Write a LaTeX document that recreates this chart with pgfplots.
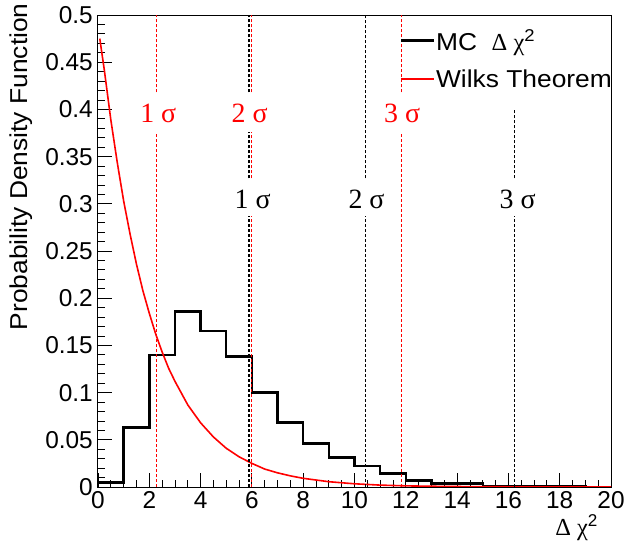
\documentclass[border=0pt]{standalone}
\usepackage{pgfplots}
\pgfplotsset{compat=1.18}
\usepackage{fontspec}
\setmainfont{Liberation Sans}
\newfontfamily\widesans[FakeStretch=1.08]{Liberation Sans}
\newfontfamily\serif{Liberation Serif}

\begin{document}
\begin{tikzpicture}
\begin{axis}[
    scale only axis,
    width=513bp, height=472bp,
    xmin=0, xmax=20, ymin=0, ymax=0.5,
    xtick={0,2,4,6,8,10,12,14,16,18,20},
    ytick={0,0.05,0.1,0.15,0.2,0.25,0.3,0.35,0.4,0.45,0.5},
    minor x tick num=3, minor y tick num=4,
    xtick pos=bottom, ytick pos=left,
    tick align=inside,
    major tick length=14bp, minor tick length=7bp,
    every tick/.style={black, line width=0.8bp},
    axis line style={line width=1bp},
    /pgf/number format/assume math mode=true,
    /pgf/number format/fixed,
    /pgf/number format/precision=2,
    tick label style={font=\fontsize{24.5}{28}\selectfont},
    yticklabel style={anchor=east, inner xsep=0pt, xshift=-5bp},
    xticklabel style={yshift=-1bp},
    xlabel={{\serif Δ χ}\textsuperscript{2}},
    ylabel={Probability Density Function},
    every axis x label/.style={at={(axis description cs:0.975,-0.058)}, anchor=north east, inner sep=0pt, font=\fontsize{24.5}{28}\selectfont},
    every axis y label/.style={at={(axis description cs:-0.127,1.025)}, rotate=90, anchor=south east, inner sep=0pt, font=\widesans\fontsize{24.5}{28}\selectfont},
    legend style={at={(axis cs:11.75,0.5)}, anchor=north west, yshift=-13bp, draw=none, fill=none,
        font=\widesans\fontsize{24.5}{28}\selectfont, row sep=16bp, inner sep=0pt, nodes={inner sep=1bp}},
    legend cell align=left,
    legend image code/.code={\draw[#1] (0bp,0bp) -- (33bp,0bp);},
    unbounded coords=jump,
]
% MC histogram (bin lower edges)
\addplot[const plot, black, line width=2.5bp] coordinates {
    (0,0.005) (1,0.063) (2,0.140) (3,0.186) (4,0.165) (5,0.138)
    (6,0.100) (7,0.0685) (8,0.046) (9,0.031) (10,0.022) (11,0.0145)
    (12,0.007) (13,0.0036) (14,0.0036) (15,0.001) (16,0.0008) (17,0.0005)
    (18,0.0004) (19,0.0002) (20,0.0002)
};
\addlegendentry{MC\ \ {\serif Δ χ}\textsuperscript{2}}
% Wilks curve
\addplot[red, line width=1.6bp] coordinates {
    (0.07,0.475) (0.25,0.441) (0.5,0.389) (0.75,0.344) (1.0,0.303)
    (1.25,0.268) (1.5,0.236) (1.75,0.208) (2.0,0.184) (2.25,0.162)
    (2.5,0.143) (2.75,0.126) (3.0,0.112) (3.5,0.087) (4.0,0.068)
    (4.5,0.053) (5.0,0.041) (5.5,0.032) (6.0,0.025) (6.5,0.019)
    (7.0,0.015) (7.5,0.0118) (8.0,0.0092) (9.0,0.0056) (10,0.0034)
    (11,0.0020) (12,0.0012) (13,0.0008) (14,0.0005) (16,0.0002)
    (18,0.0001) (20,0.00002)
};
\addlegendentry{Wilks Theorem}
% Wilks sigma levels
\addplot[red, line width=1.5bp, dash pattern=on 3bp off 2bp, forget plot] coordinates {
    (2.28,0) (2.28,0.376) (2.28,nan) (2.28,0.418) (2.28,0.5)};
\addplot[red, line width=1.5bp, dash pattern=on 3bp off 2bp, forget plot] coordinates {
    (5.98,0) (5.98,0.287) (5.98,nan) (5.98,0.327) (5.98,0.376) (5.98,nan) (5.98,0.418) (5.98,0.5)};
\addplot[red, line width=1.5bp, dash pattern=on 3bp off 2bp, forget plot] coordinates {
    (11.83,0) (11.83,0.376) (11.83,nan) (11.83,0.418) (11.83,0.5)};
% MC sigma levels
\addplot[black, line width=1.5bp, dash pattern=on 3bp off 2bp, forget plot] coordinates {
    (5.89,0) (5.89,0.287) (5.89,nan) (5.89,0.327) (5.89,0.376) (5.89,nan) (5.89,0.418) (5.89,0.5)};
\addplot[black, line width=1.5bp, dash pattern=on 3bp off 2bp, forget plot] coordinates {
    (10.42,0) (10.42,0.287) (10.42,nan) (10.42,0.327) (10.42,0.5)};
\addplot[black, line width=1.5bp, dash pattern=on 3bp off 2bp, forget plot] coordinates {
    (16.24,0) (16.24,0.287) (16.24,nan) (16.24,0.327) (16.24,0.401)};
% labels
\begin{scope}[every node/.style={anchor=base, font=\serif\fontsize{28}{31}\selectfont}]
\node[red] at (axis cs:2.35,0.386) {1 σ};
\node[red] at (axis cs:5.91,0.386) {2 σ};
\node[red] at (axis cs:11.86,0.386) {3 σ};
\node at (axis cs:6.03,0.295) {1 σ};
\node at (axis cs:10.47,0.295) {2 σ};
\node at (axis cs:16.36,0.295) {3 σ};
\end{scope}
\end{axis}
\pgfresetboundingbox
\path[use as bounding box] (-98bp,-57bp) rectangle (528bp,487bp);
\end{tikzpicture}
\end{document}
